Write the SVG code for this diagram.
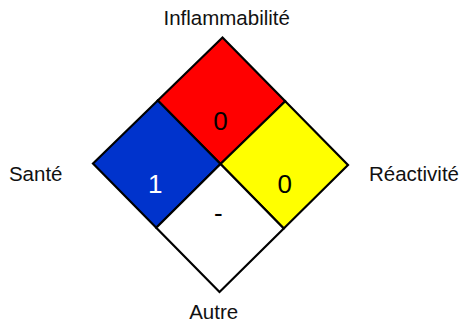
<svg xmlns="http://www.w3.org/2000/svg" width="462" height="325" viewBox="0 0 462 325">
<style>
.q{stroke:#000;stroke-width:2.2;stroke-linejoin:miter}
.lbl{font-family:"Liberation Sans",Arial,sans-serif;font-size:20.5px;fill:#111;text-anchor:middle}
.num{font-family:"Liberation Sans",Arial,sans-serif;font-size:26px;text-anchor:middle}
</style>
<rect width="462" height="325" fill="#fff"/>
<g id="flammability">
<polygon class="q" fill="#FF0000" points="222.5,37.5 285.25,101.25 220.5,164 157.75,100.5"/>
<text class="num" x="220.5" y="129.5" fill="#000">0</text>
</g>
<g id="health">
<polygon class="q" fill="#0033CC" points="93,163.5 157.75,100.5 220.5,164 156.25,227.75"/>
<text class="num" x="155.3" y="193.3" fill="#fff">1</text>
</g>
<g id="reactivity">
<polygon class="q" fill="#FFFF00" points="220.5,164 285.25,101.25 348,165 283.75,228.5"/>
<text class="num" x="284.7" y="193.3" fill="#000">0</text>
</g>
<g id="other">
<polygon class="q" fill="#FFFFFF" points="220.5,164 283.75,228.5 219.5,292 156.25,227.75"/>
<text class="num" x="218.3" y="221.5" fill="#000">-</text>
</g>
<g id="labels">
<text class="lbl" x="226.7" y="25">Inflammabilité</text>
<text class="lbl" x="35.7" y="181">Santé</text>
<text class="lbl" x="414" y="181">Réactivité</text>
<text class="lbl" x="213.7" y="319">Autre</text>
</g>
<g id="connectors"></g>
</svg>
